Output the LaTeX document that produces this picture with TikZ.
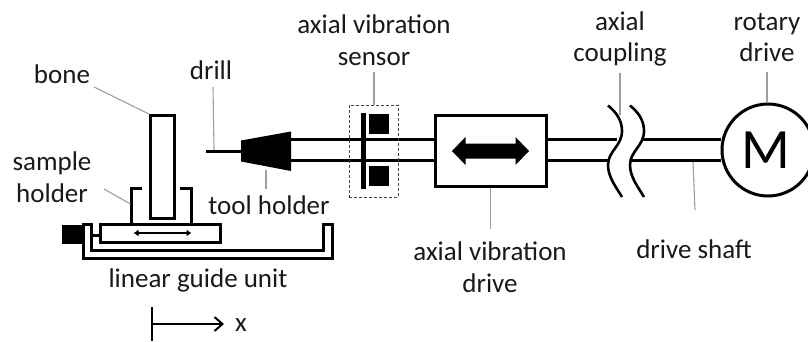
\documentclass[tikz,border=0pt]{standalone}
\usepackage{fontspec}
\setmainfont{Carlito}
\usetikzlibrary{arrows.meta}
\definecolor{leader}{gray}{0.62}
\tikzset{
  lbl/.style={anchor=base,inner sep=0pt,font=\fontsize{27}{30}\selectfont,text=black!90},
  heavy/.style={draw=black,line width=3pt},
  shaft/.style={draw=black,line width=3pt},
  solid box/.style={fill=black,draw=none,inner sep=0pt},
  leaderline/.style={draw=leader,line width=1.1pt},
  plainbox/.style={draw=black,line width=3pt,fill=white,inner sep=0pt},
  point/.style={inner sep=0pt,minimum size=0pt}
}
\begin{document}
\begin{tikzpicture}[x=1pt,y=-1pt]
\clip (0,0) rectangle (808,341);
\useasboundingbox (0,0) rectangle (808,341);
% anchors
\coordinate (drillL) at (206,151);
\coordinate (drillR) at (241,151);
\coordinate (thT) at (291,139.5);
\coordinate (thB) at (291,160.5);
\coordinate (wLT) at (617,139.5);
\coordinate (wLB) at (610,160.5);
\coordinate (wRT) at (641,139.5);
\coordinate (wRB) at (631,160.5);
% motor and shafts first
\node[draw=black,line width=3pt,circle,minimum size=92pt,inner sep=0pt] (motor) at (768,150) {};
\node[plainbox,minimum width=111pt,minimum height=71pt,anchor=center] (drive) at (490.5,150.5) {};
\draw[shaft] (thT) -- (thT -| drive.west);
\draw[shaft] (thB) -- (thB -| drive.west);
\draw[shaft] (thT -| drive.east) -- (wLT);
\draw[shaft] (thB -| drive.east) -- (wLB);
\draw[shaft] (wRT) -- (wRT -| motor.west);
\draw[shaft] (wRB) -- (wRB -| motor.west);
% tool holder & drill
\draw[shaft] (drillL) -- (drillR);
\fill[black] (241,140.5) -- (291,131.5) -- (291,171) -- (241,161.5) -- cycle;
% sensor
\node[draw=black!75,densely dashed,line width=1pt,minimum width=49pt,minimum height=92pt,inner sep=0pt] (sensor) at (373.5,151) {};
\fill[black] (360.8,113) rectangle (365.5,189);
\node[solid box,minimum size=20pt] (s1) at (379,124) {};
\node[solid box,minimum size=20pt] (s2) at (379,176) {};
% drive arrow
\fill[black] (452,151) -- (465.5,137) -- (465.5,143.5) -- (515.5,143.5) -- (515.5,137) -- (529,151) -- (515.5,165) -- (515.5,158.5) -- (465.5,158.5) -- (465.5,165) -- cycle;
% coupling waves
\foreach \d in {0,22}{
  \draw[black,line width=2.6pt] (608+\d,105.5) .. controls (616+\d,112) and (622+\d,120) .. (622+\d,131)
     .. controls (622+\d,146) and (608+\d,151) .. (608+\d,165)
     .. controls (608+\d,177) and (616+\d,187) .. (622+\d,197);
}
\node[inner sep=0pt,anchor=base,font=\fontsize{57}{60}\selectfont] (mlabel) at (766,168) {M};
% bone and sample holder
\node[heavy,minimum width=24pt,minimum height=103pt,inner sep=0pt] (bone) at (162.5,167) {};
\node[plainbox,minimum width=120pt,minimum height=18pt] (table) at (160.5,233) {};
\draw[heavy] (142,188) -- (131.5,188) -- (131.5,223);
\draw[heavy] (180,188) -- (191,188) -- (191,223);
\coordinate (holderpt) at (130.5,204);
\draw[black,line width=2.2pt,{Latex[length=5pt,width=7pt]}-{Latex[length=5pt,width=7pt]}] (133.5,233) -- (191.5,233);
% guide
\draw[heavy] (83,224) -- (83,258) -- (332,258) -- (332,224) -- (323.5,224) -- (323.5,250.5) -- (91,250.5) -- (91,224) -- cycle;
\node[solid box,minimum size=19.5pt] (block) at (72,234.5) {};
\draw[heavy] (91,235) -- (table.west |- 0,235);
% x axis
\coordinate (xO) at (152,324);
\coordinate (xE) at (224,324);
\draw[black,line width=2pt] (152,307) -- (152,341);
\draw[black,line width=2pt,-{Straight Barb[length=8pt,width=14pt,line width=2pt]}] (xO) -- (xE);
% texts
\node[lbl] (tbone) at (62,83) {bone};
\node[lbl] (tdrill) at (211,79) {drill};
\node[lbl] (tsample) at (52,170) {sample};
\node[lbl] (tholder) at (52,202) {holder};
\node[lbl] (ttool) at (269,214) {tool holder};
\node[lbl] (tlinear) at (198,287) {linear guide unit};
\node[lbl] (tx) at (241,331) {x};
\node[lbl] (tav1) at (374,33) {axial vibration};
\node[lbl] (tav2) at (374,65) {sensor};
\node[lbl] (tac1) at (620,30) {axial};
\node[lbl] (tac2) at (620,61) {coupling};
\node[lbl] (tr1) at (767,30) {rotary};
\node[lbl] (tr2) at (767,61) {drive};
\node[lbl] (tvd1) at (490,260) {axial vibration};
\node[lbl] (tvd2) at (490,292) {drive};
\node[lbl] (tds) at (694,258) {drive shaft};
% leader lines
\draw[leaderline] (94,87) -- (bone.north west);
\draw[leaderline] (213,87) -- (214,150);
\draw[leaderline] (104,189) -- (holderpt);
\draw[leaderline] (266,170) -- (266,189);
\draw[leaderline] (374,72) -- (sensor.north -| 374,0);
\draw[leaderline] (drive.south) -- (490.5,229);
\draw[leaderline] (620,73) -- (620,115);
\draw[leaderline] (693,162) -- (695,210);
\draw[leaderline] (767,72) -- (motor.north -| 767,0);
\end{tikzpicture}
\end{document}
